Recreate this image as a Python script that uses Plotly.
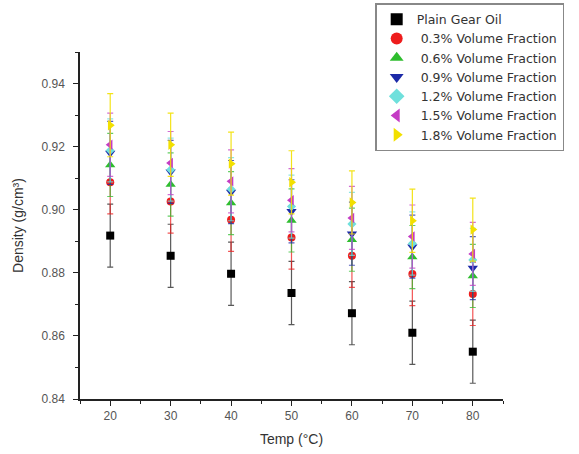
import plotly.graph_objects as go

temps = [20, 30, 40, 50, 60, 70, 80]
names = ["Plain Gear Oil", "\u00a00.3% Volume Fraction", "\u00a00.6% Volume Fraction",
         "\u00a00.9% Volume Fraction", "\u00a01.2% Volume Fraction", "\u00a01.5% Volume Fraction",
         "\u00a01.8% Volume Fraction"]
plain = [0.8918, 0.8854, 0.8797, 0.8736, 0.8672, 0.8610, 0.8550]
vf03 = [0.9087, 0.9026, 0.8968, 0.8912, 0.8854, 0.8796, 0.8733]
vf06 = [0.9142, 0.9080, 0.9021, 0.8966, 0.8905, 0.8850, 0.8790]
vf09 = [0.9180, 0.9120, 0.9056, 0.8995, 0.8924, 0.8883, 0.8815]
vf12 = [0.9188, 0.9127, 0.9065, 0.9010, 0.8955, 0.8893, 0.8841]
vf15 = [0.9206, 0.9148, 0.9090, 0.9030, 0.8974, 0.8915, 0.8860]
vf18 = [0.9268, 0.9206, 0.9146, 0.9087, 0.9023, 0.8965, 0.8937]
err = [0.01, 0.01, 0.01, 0.01, 0.01, 0.01, 0.01]

series = [plain, vf03, vf06, vf09, vf12, vf15, vf18]
colors = ["#000000", "#ee1c1c", "#2ebd2e", "#1c2aa8", "#6fe0dc", "#c43cc4", "#f2e000"]
err_colors = ["rgba(60,60,60,0.85)", "rgba(238,28,28,0.75)", "rgba(46,189,46,0.75)",
              "rgba(28,42,168,0.75)", "rgba(111,224,220,0.8)", "rgba(196,60,196,0.75)",
              "rgba(242,224,0,0.9)"]
symbols = ["square", "circle", "triangle-up", "triangle-down", "diamond",
           "triangle-left", "triangle-right"]
sizes = [8, 8, 9, 9, 7, 9, 9]

fig = go.Figure()
for nm, ys, c, ec, s, sz in zip(names, series, colors, err_colors, symbols, sizes):
    fig.add_trace(go.Scatter(
        x=temps, y=ys, name=nm, mode="markers",
        marker=dict(symbol=s, color=c, size=sz, line=dict(width=0)),
        error_y=dict(type="data", array=err, visible=True, color=ec,
                     thickness=1.2, width=3),
    ))

fig.update_layout(
    width=579, height=454,
    margin=dict(l=80, r=76, t=52, b=55, autoexpand=False),
    plot_bgcolor="white", paper_bgcolor="white",
    font=dict(family="Liberation Sans, Arial, sans-serif", color="#444"),
    showlegend=True,
    legend=dict(
        xref="container", yref="container",
        x=0.648, y=0.993, xanchor="left", yanchor="top",
        bgcolor="white", bordercolor="#888", borderwidth=1.5,
        font=dict(family="DejaVu Sans, sans-serif", size=12.5, color="#333"),
        tracegroupgap=0, itemsizing="constant",
    ),
    xaxis=dict(
        range=[15, 85], tickvals=[20, 30, 40, 50, 60, 70, 80],
        showgrid=False, zeroline=False, automargin=False,
        showline=True, linecolor="#222", linewidth=1.5,
        ticks="outside", ticklen=5, tickwidth=1.2, tickcolor="#222",
        tickfont=dict(size=12, color="#555"),
        minor=dict(dtick=5, tick0=15, ticks="outside", ticklen=3, tickcolor="#222"),
        title=dict(text="Temp (°C)", font=dict(size=14, color="#333"), standoff=12),
    ),
    yaxis=dict(
        range=[0.84, 0.95], tickvals=[0.84, 0.86, 0.88, 0.90, 0.92, 0.94],
        ticktext=["0.84", "0.86", "0.88", "0.90", "0.92", "0.94"],
        showgrid=False, zeroline=False, automargin=False,
        showline=True, linecolor="#222", linewidth=1.5,
        ticks="outside", ticklen=5, tickwidth=1.2, tickcolor="#222",
        tickfont=dict(size=12, color="#555"), ticklabelstandoff=6,
        minor=dict(dtick=0.01, tick0=0.84, ticks="outside", ticklen=3, tickcolor="#222"),
        title=dict(text="Density (g/cm³)", font=dict(size=14, color="#333"), standoff=15),
    ),
)

fig.write_html("out.html")
